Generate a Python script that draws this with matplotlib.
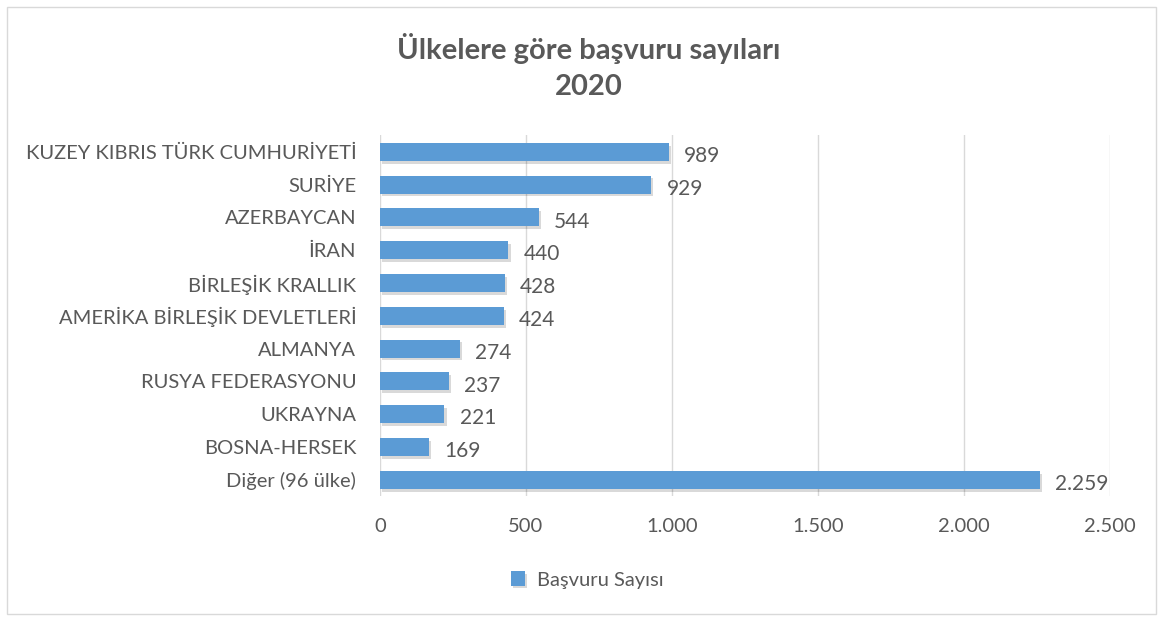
import matplotlib.pyplot as plt
import matplotlib.patheffects as pe
from matplotlib.patches import Rectangle

countries = [
    "KUZEY KIBRIS TÜRK CUMHURİYETİ",
    "SURİYE",
    "AZERBAYCAN",
    "İRAN",
    "BİRLEŞİK KRALLIK",
    "AMERİKA BİRLEŞİK DEVLETLERİ",
    "ALMANYA",
    "RUSYA FEDERASYONU",
    "UKRAYNA",
    "BOSNA-HERSEK",
    "Diğer (96 ülke)",
]
applications = [989, 929, 544, 440, 428, 424, 274, 237, 221, 169, 2259]
x_ticks = [0, 500, 1000, 1500, 2000, 2500]
x_labels = ["0", "500", "1.000", "1.500", "2.000", "2.500"]


def fmt(v):
    return f"{v:,}".replace(",", ".")


def main():
    plt.rcParams['font.family'] = ['Lato', 'DejaVu Sans']
    text_color = "#595959"

    fig = plt.figure(figsize=(11.63, 6.21), dpi=100)
    fig.patches.append(Rectangle((0.006, 0.011), 0.988, 0.978, transform=fig.transFigure,
                                 fill=False, edgecolor="#d9d9d9", linewidth=1))
    ax = fig.add_axes([0.3267, 0.201, 0.6277, 0.581])

    y = list(range(len(countries)))
    bars = ax.barh(y, applications, height=0.55, color="#5b9bd5", zorder=3,
                   label="Başvuru Sayısı")
    for b in bars:
        b.set_path_effects([pe.SimplePatchShadow(offset=(1.5, -2), shadow_rgbFace="#000000",
                                                 alpha=0.15), pe.Normal()])

    for yi, v in zip(y, applications):
        ax.annotate(fmt(v), (v, yi), xytext=(11, -3), textcoords="offset points",
                    va="center", ha="left", fontsize=15, color=text_color)

    ax.set_ylim(len(countries) - 0.5, -0.5)
    ax.set_xlim(0, 2500)
    ax.set_yticks(y)
    ax.set_yticklabels(countries, fontsize=14.5, color=text_color)
    ax.set_xticks(x_ticks)
    ax.set_xticklabels(x_labels, fontsize=14.5, color=text_color)
    ax.tick_params(axis="both", length=0)
    ax.tick_params(axis="y", pad=17)
    ax.tick_params(axis="x", pad=16)
    ax.grid(axis="x", color="#d9d9d9", linewidth=1, zorder=0)
    for s in ax.spines.values():
        s.set_visible(False)

    fig.text(0.506, 0.922, "Ülkelere göre başvuru sayıları", ha="center", va="center",
             fontsize=21, fontweight="bold", color=text_color)
    fig.text(0.506, 0.86, "2020", ha="center", va="center",
             fontsize=21, fontweight="bold", color=text_color)

    fig.legend(loc="center", bbox_to_anchor=(0.505, 0.066), frameon=False,
               fontsize=14.5, labelcolor=text_color, handlelength=0.7, handleheight=0.7,
               handletextpad=0.6)

    fig.savefig("out.png", dpi=100)


if __name__ == "__main__":
    main()
